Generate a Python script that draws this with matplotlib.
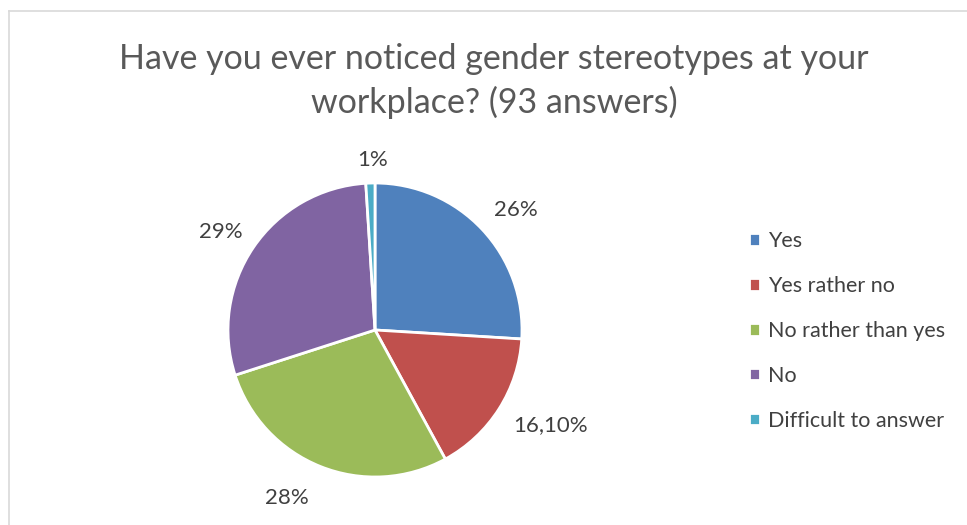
import matplotlib.pyplot as plt
from matplotlib.lines import Line2D

categories = ['Yes', 'Yes rather no', 'No rather than yes', 'No', 'Difficult to answer']
shares = [26, 16.1, 28, 29, 1]
colors = ['#4F81BD', '#C0504D', '#9BBB59', '#8064A2', '#4BACC6']
title = 'Have you ever noticed gender stereotypes at your\nworkplace? (93 answers)'

# small shifts of the data labels away from the plain radial spot (axes units)
label_nudge = [(0.04, -0.05), (0.13, 0.03), (-0.13, 0.03), (-0.01, -0.04), (0.02, -0.10)]


def fmt(v):
    if float(v).is_integer():
        return '%d%%' % v
    return ('%.2f%%' % v).replace('.', ',')


plt.rcParams['font.family'] = ['Lato', 'DejaVu Sans']
fig = plt.figure(figsize=(9.67, 5.25), dpi=100)

# chart frame (only top and left edges visible)
fig.add_artist(Line2D([9 / 967, 9 / 967], [0, 1 - 11 / 525], color='#d9d9d9', lw=1.2))
fig.add_artist(Line2D([9 / 967, 1], [1 - 11 / 525, 1 - 11 / 525], color='#d9d9d9', lw=1.2))

fig.text(494 / 967, 1 - 81 / 525, title, ha='center', va='center', fontsize=24.5,
         color='#595959', linespacing=1.38)

ax = fig.add_axes([228 / 967, 48 / 525, 294 / 967, 294 / 525])
wedges, texts = ax.pie(shares, colors=colors, startangle=90, counterclock=False,
                       labels=[fmt(v) for v in shares], labeldistance=1.26,
                       wedgeprops=dict(edgecolor='white', linewidth=2),
                       textprops=dict(fontsize=16, color='#404040'))
for t, (dx, dy) in zip(texts, label_nudge):
    x, y = t.get_position()
    t.set_position((x + dx, y + dy))
    t.set_ha('center')
    t.set_va('center')
ax.set_xlim(-1, 1)
ax.set_ylim(-1, 1)

ax.legend(wedges, categories, loc='upper left', bbox_to_anchor=(734 / 967, 1 - 216 / 525),
          bbox_transform=fig.transFigure, frameon=False, fontsize=15.5,
          handlelength=0.5, handleheight=0.5, handletextpad=0.4, labelspacing=1.16,
          labelcolor='#404040', borderpad=0.2)

fig.savefig('out.png', dpi=100)
